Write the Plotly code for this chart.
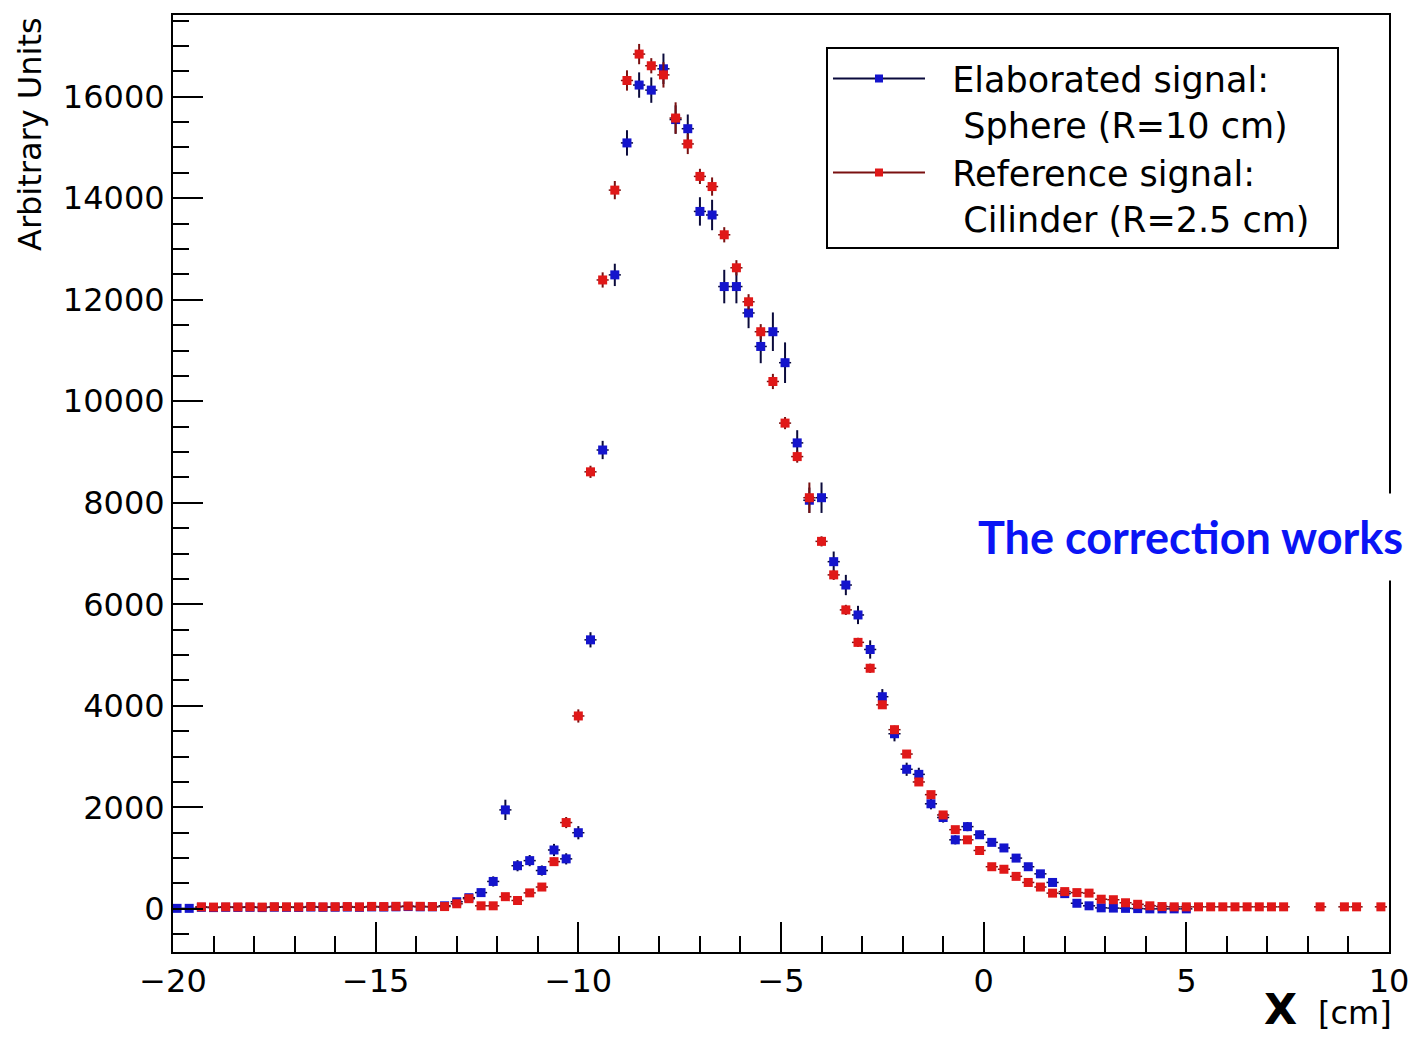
import plotly.graph_objects as go

# ─────────────────────────────────────────
# DATA  (100 bins of 0.3 cm from -20 to 10 cm)
# ─────────────────────────────────────────

BIN_LO = -19.9
BIN_W = 0.3
N_BINS = 100
x_centers = [round(BIN_LO + BIN_W * k, 2) for k in range(N_BINS)]

# Reference signal : cylinder (R=2.5 cm)
ref_y = [
    None, None, 40, 35, 40, 38, 40, 35, 42, 40,
    38, 45, 40, 42, 45, 40, 48, 45, 50, 55,
    50, 45, 45, 100, 200, 60, 60, 240, 165, 315,
    430, 930, 1700, 3800, 8610, 12390, 14160, 16320, 16840, 16610,
    16430, 15580, 15070, 14430, 14230, 13280, 12630, 11960, 11370, 10390,
    9570, 8910, 8100, 7240, 6580, 5890, 5250, 4740, 4020, 3530,
    3050, 2500, 2250, 1850, 1560, 1360, 1150, 830, 780, 640,
    520, 430, 310, 340, 320, 310, 190, 180, 120, 90,
    60, 45, 40, 40, 40, 40, 40, 40, 40, 40,
    40, 40, None, None, 40, None, 40, 40, None, 40,
]
ref_err = [
    0, 0, 15, 15, 15, 15, 15, 15, 15, 15,
    15, 15, 15, 15, 15, 15, 15, 15, 20, 20,
    20, 20, 20, 30, 40, 20, 20, 40, 35, 50,
    60, 80, 110, 130, 120, 150, 180, 200, 200, 150,
    250, 310, 200, 150, 180, 150, 150, 150, 150, 150,
    120, 120, 300, 100, 100, 100, 90, 90, 80, 80,
    70, 70, 60, 60, 55, 50, 50, 45, 45, 40,
    35, 35, 30, 30, 30, 30, 25, 25, 20, 20,
    15, 15, 15, 15, 15, 15, 15, 15, 15, 15,
    15, 15, 0, 0, 15, 0, 15, 15, 0, 15,
]

# Elaborated signal : sphere (R=10 cm)
ela_y = [
    10, 10, 30, 25, 30, 28, 30, 25, 32, 30,
    28, 35, 30, 32, 35, 30, 38, 35, 40, 45,
    40, 40, 60, 140, 220, 320, 540, 1950, 850, 950,
    755, 1160, 985, 1500, 5300, 9040, 12490, 15090, 16230, 16130,
    16550, 15550, 15370, 13740, 13670, 12260, 12260, 11740, 11080, 11370,
    10760, 9180, 8050, 8100, 6840, 6380, 5790, 5110, 4180, 3450,
    2750, 2650, 2070, 1800, 1360, 1620, 1460, 1310, 1200, 1000,
    830, 690, 520, 300, 110, 60, 20, 15, 10, 5,
    0, 0, 0, 0, None, None, None, None, None, None,
    None, None, None, None, None, None, None, None, None, None,
]
ela_err = [
    20, 20, 20, 20, 20, 20, 20, 20, 20, 20,
    20, 20, 20, 20, 20, 20, 20, 20, 25, 25,
    40, 40, 50, 60, 70, 80, 100, 200, 110, 110,
    100, 120, 110, 130, 150, 180, 220, 250, 250, 250,
    300, 280, 280, 280, 300, 330, 330, 300, 330, 380,
    400, 250, 250, 300, 200, 200, 180, 180, 150, 150,
    130, 130, 110, 100, 90, 90, 80, 70, 70, 65,
    60, 60, 50, 40, 30, 25, 20, 20, 20, 20,
    20, 20, 20, 20, 0, 0, 0, 0, 0, 0,
    0, 0, 0, 0, 0, 0, 0, 0, 0, 0,
]

BLUE = "#1414cc"
BLUE_LINE = "#0a0a3c"
RED = "#e01818"
RED_LINE = "#7a1010"

FONT = "DejaVu Sans"

# ─────────────────────────────────────────
# FIGURE
# ─────────────────────────────────────────

fig = go.Figure()

for yv, err, mcol, lcol in [(ela_y, ela_err, BLUE, BLUE_LINE),
                            (ref_y, ref_err, RED, RED_LINE)]:
    fig.add_trace(go.Scatter(
        x=x_centers, y=yv, mode="markers",
        marker=dict(symbol="square", size=9, color=mcol),
        error_y=dict(type="data", array=err, visible=True,
                     color=lcol, thickness=2, width=0),
        error_x=dict(type="constant", value=BIN_W / 2, visible=True,
                     color=lcol, thickness=1.5, width=0),
        showlegend=False,
    ))

# legend entries (line + marker, like ROOT)
for name, mcol, lcol in [
    ("  Elaborated signal:<br>   Sphere (R=10 cm)", BLUE, BLUE_LINE),
    ("  Reference signal:<br>   Cilinder (R=2.5 cm)  ", RED, RED_LINE),
]:
    fig.add_trace(go.Scatter(
        x=[None], y=[None], mode="lines+markers", name=name,
        line=dict(color=lcol, width=2),
        marker=dict(symbol="square", size=8, color=mcol),
    ))

fig.update_layout(
    width=1410, height=1037,
    margin=dict(l=173, r=21, t=15, b=85),
    paper_bgcolor="white", plot_bgcolor="white",
    font=dict(family=FONT, size=32, color="black"),
    legend=dict(
        x=0.537, y=0.9656, xanchor="left", yanchor="top",
        bgcolor="white", bordercolor="black", borderwidth=2,
        font=dict(family=FONT, size=35, color="black"),
        itemwidth=92, valign="top", tracegroupgap=0,
    ),
)

fig.update_xaxes(
    range=[-20, 10], dtick=5, tick0=0,
    ticks="inside", ticklen=30, tickwidth=2, tickcolor="black",
    minor=dict(dtick=1, ticks="inside", ticklen=16, tickwidth=2, tickcolor="black"),
    showline=True, linecolor="black", linewidth=2, mirror=True,
    showgrid=False, zeroline=False, automargin=False,
    tickfont=dict(family=FONT, size=32),
)
fig.update_yaxes(
    range=[-850, 17610], dtick=2000, tick0=0, tickformat="d",
    ticks="inside", ticklen=30, tickwidth=2, tickcolor="black",
    minor=dict(dtick=500, ticks="inside", ticklen=16, tickwidth=2, tickcolor="black"),
    showline=True, linecolor="black", linewidth=2, mirror=True,
    showgrid=False, zeroline=False, automargin=False,
    tickfont=dict(family=FONT, size=32),
)

# axis titles, ROOT style (right / top aligned)
fig.add_annotation(text="Arbitrary Units", textangle=-90,
                   xref="paper", yref="paper", x=-0.1176, y=1.0,
                   xanchor="center", yanchor="top", showarrow=False,
                   font=dict(family=FONT, size=32))
fig.add_annotation(text="<b>X</b>", xref="paper", yref="paper",
                   x=0.9104, y=-0.0896, xanchor="center", yanchor="bottom",
                   showarrow=False, font=dict(family=FONT, size=43))
fig.add_annotation(text="[cm]", xref="paper", yref="paper",
                   x=0.972, y=-0.0651, xanchor="center", yanchor="middle",
                   showarrow=False, font=dict(family=FONT, size=32))

fig.add_annotation(text="<b>The correction works</b>", xref="paper", yref="paper",
                   x=0.8364, y=0.4429, xanchor="center", yanchor="middle",
                   showarrow=False, bgcolor="white", borderpad=16,
                   font=dict(family="Lato", size=45, color="#0a14f5"))

# drop the page's default body margin so the figure sits at the window corner
fig.write_html("out.html",
               config={"displayModeBar": False},
               post_script="document.body.style.margin='0';"
                           "document.body.style.overflow='hidden';")
